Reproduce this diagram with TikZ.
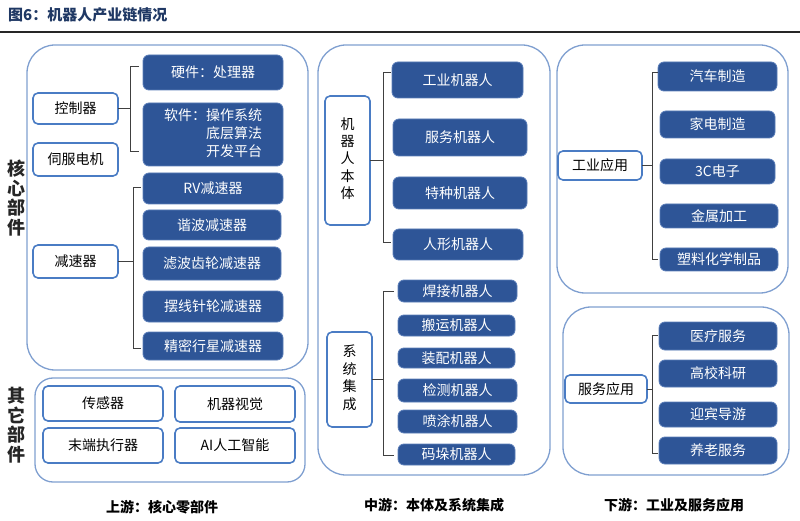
\documentclass[tikz,border=0pt]{standalone}
\usepackage{fontspec}
\setmainfont{Noto Sans CJK SC}
\definecolor{darkc}{HTML}{2E5597}
\definecolor{darkb}{HTML}{5A7DB8}
\definecolor{panelc}{HTML}{7F9FD0}
\definecolor{boxc}{HTML}{4A7CC4}
\definecolor{titlec}{HTML}{1F3864}
\newcommand\mybox[7]{\node[#1, minimum width={(#5-#3)*1pt}, minimum height={(#6-#4)*1pt}] (#2) at ({(#3+#5)/2},{(#4+#6)/2}) {#7};}
\tikzset{
  panel/.style={draw=panelc, line width=1.3pt, rounded corners=28pt},
  spanel/.style={draw=panelc, line width=1.3pt, rounded corners=18pt},
  wbox/.style={draw=boxc, line width=1.6pt, fill=white, rounded corners=5pt, inner sep=0pt, outer sep=0pt, font=\fontsize{14}{16}\selectfont, text=black},
  dbox/.style={draw=darkb, line width=0.8pt, fill=darkc, rounded corners=6pt, inner sep=0pt, outer sep=0pt, font=\fontsize{14}{18}\selectfont, text=white},
  brk/.style={draw=black!75, line width=1pt},
  vlab/.style={font=\fontsize{18}{19.5}\bfseries\selectfont, align=center, inner sep=0pt, text=black!85},
  captext/.style={font=\fontsize{14}{16}\bfseries\selectfont, inner sep=0pt},
}
\begin{document}
\begin{tikzpicture}[x=1pt,y=-1pt]
\useasboundingbox (0,0) rectangle (800,521);
% title
\node[anchor=west, inner sep=0pt, font=\fontsize{15}{17}\bfseries\selectfont, text=titlec] (title) at (8,15) {图6：机器人产业链情况};
\draw[line width=2pt, black!85] (0,32) -- (800,32);
% panels
\draw[panel] (27,45) rectangle (308,370);
\draw[spanel] (35,378) rectangle (305,482);
\draw[panel] (318,45) rectangle (550,475);
\draw[panel] (557,45) rectangle (788,293);
\draw[panel] (563,307) rectangle (789,475);
% vertical labels
\node[vlab] (core) at (17,198) {核\\心\\部\\件};
\node[vlab] (other) at (17,425) {其\\它\\部\\件};
% upstream
\mybox{wbox}{ctrl}{33}{93}{118}{124}{控制器}
\mybox{wbox}{servo}{33}{143}{118}{176}{伺服电机}
\mybox{wbox}{red}{33}{245}{118}{278}{减速器}
\mybox{dbox}{hw}{143}{55}{283}{90}{硬件：处理器}
\mybox{dbox}{sw}{143}{103}{283}{166}{\begin{tabular}{@{}r@{}l@{}}软件：&操作系统\\&底层算法\\&开发平台\end{tabular}}
\mybox{dbox}{rv}{143}{173}{283}{204}{RV减速器}
\mybox{dbox}{hd}{143}{210}{281}{240}{谐波减速器}
\mybox{dbox}{fg}{143}{247}{281}{280}{滤波齿轮减速器}
\mybox{dbox}{cy}{143}{291}{283}{322}{摆线针轮减速器}
\mybox{dbox}{pl}{143}{332}{283}{360}{精密行星减速器}
\mybox{wbox}{sens}{43}{386}{163}{421}{传感器}
\mybox{wbox}{vis}{175}{386}{295}{422}{机器视觉}
\mybox{wbox}{eff}{43}{428}{163}{463}{末端执行器}
\mybox{wbox}{ai}{175}{428}{295}{463}{AI人工智能}
% brackets upstream
\coordinate (b1) at (130,0);
\coordinate (b1t) at (139,67);
\coordinate (b1b) at (139,152);
\draw[brk] (b1t) -- (b1t -| b1) -- (b1b -| b1) -- (b1b);
\draw[brk] (ctrl.east) -- (ctrl.east -| b1);
\coordinate (b2) at (133,0);
\coordinate (b2t) at (141,188);
\coordinate (b2b) at (141,348);
\draw[brk] (b2t) -- (b2t -| b2) -- (b2b -| b2) -- (b2b);
\draw[brk] (red.east) -- (red.east -| b2);
% midstream
\mybox{wbox}{body}{325}{96}{370}{225}{\begin{tabular}{@{}c@{}}机\\[1pt]器\\[1pt]人\\[1pt]本\\[1pt]体\end{tabular}}
\mybox{dbox}{ir}{392}{62}{523}{98}{工业机器人}
\mybox{dbox}{sr}{393}{119}{527}{156}{服务机器人}
\mybox{dbox}{spr}{393}{177}{527}{209}{特种机器人}
\mybox{dbox}{hr}{393}{229}{523}{260}{人形机器人}
\coordinate (b3) at (383,0);
\coordinate (b3t) at (391,73);
\coordinate (b3b) at (391,243);
\draw[brk] (b3t) -- (b3t -| b3) -- (b3b -| b3) -- (b3b);
\draw[brk] (body.east) -- (body.east -| b3);
\mybox{wbox}{sys}{327}{332}{372}{427}{\begin{tabular}{@{}c@{}}系\\[1pt]统\\[1pt]集\\[1pt]成\end{tabular}}
\mybox{dbox}{weld}{398}{280}{517}{302}{焊接机器人}
\mybox{dbox}{hand}{398}{315}{515}{336}{搬运机器人}
\mybox{dbox}{asm}{398}{348}{515}{368}{装配机器人}
\mybox{dbox}{insp}{398}{379}{517}{402}{检测机器人}
\mybox{dbox}{spray}{398}{410}{517}{433}{喷涂机器人}
\mybox{dbox}{pal}{398}{444}{515}{465}{码垛机器人}
\coordinate (b4) at (383,0);
\coordinate (b4t) at (394,291);
\coordinate (b4b) at (394,455);
\draw[brk] (b4t) -- (b4t -| b4) -- (b4b -| b4) -- (b4b);
\draw[brk] (sys.east) -- (sys.east -| b4);
% downstream
\mybox{wbox}{ind}{558}{151}{642}{180}{工业应用}
\mybox{dbox}{auto}{658}{62}{777}{91}{汽车制造}
\mybox{dbox}{appl}{660}{111}{775}{138}{家电制造}
\mybox{dbox}{cc}{660}{159}{775}{184}{3C电子}
\mybox{dbox}{metal}{660}{204}{778}{228}{金属加工}
\mybox{dbox}{plast}{660}{248}{778}{271}{塑料化学制品}
\coordinate (b5) at (652,0);
\coordinate (b5t) at (658,73);
\coordinate (b5b) at (658,260);
\draw[brk] (b5t) -- (b5t -| b5) -- (b5b -| b5) -- (b5b);
\draw[brk] (ind.east) -- (ind.east -| b5);
\mybox{wbox}{svc}{565}{375}{647}{403}{服务应用}
\mybox{dbox}{med}{659}{322}{777}{350}{医疗服务}
\mybox{dbox}{edu}{659}{360}{777}{387}{高校科研}
\mybox{dbox}{guide}{659}{402}{777}{427}{迎宾导游}
\mybox{dbox}{elder}{659}{437}{777}{464}{养老服务}
\coordinate (b6) at (652,0);
\coordinate (b6t) at (658,335);
\coordinate (b6b) at (658,453);
\draw[brk] (b6t) -- (b6t -| b6) -- (b6b -| b6) -- (b6b);
\draw[brk] (svc.east) -- (svc.east -| b6);
% captions
\node[captext] (c1) at (162,507) {上游：核心零部件};
\node[captext] (c2) at (434,505) {中游：本体及系统集成};
\node[captext] (c3) at (674,505) {下游：工业及服务应用};
\end{tikzpicture}
\end{document}
